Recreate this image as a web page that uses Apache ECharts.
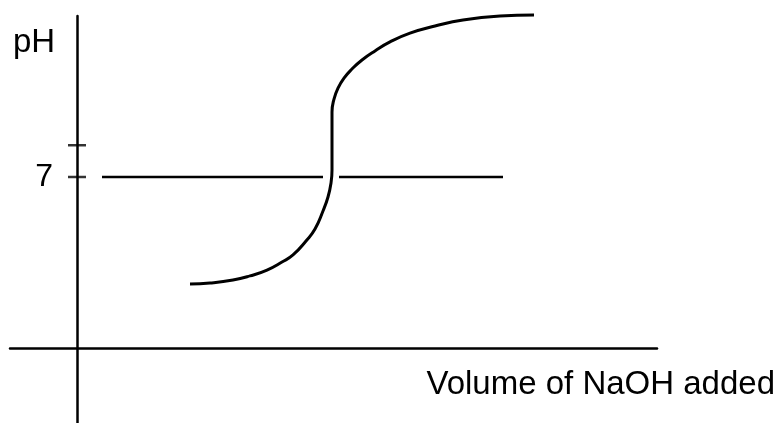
<!DOCTYPE html>
<html>
<head>
<meta charset="utf-8">
<script src="https://cdn.jsdelivr.net/npm/echarts@6/dist/echarts.min.js"></script>
<style>
  html, body { margin: 0; padding: 0; background: #fff; }
  #chart { width: 783px; height: 423px; }
</style>
</head>
<body>
<div id="chart"></div>
<script>
// titration curve
var volumeList = [11.3, 13.3, 15.6, 17.3, 19.0, 20.5, 21.6, 22.9, 23.8, 24.6, 25.1, 25.4,
                  25.5, 25.5, 25.5, 25.5, 25.7, 26.1, 26.7, 27.5, 28.5, 29.8, 31.3, 33.3,
                  35.8, 38.6, 42.3, 45.7];
var phList = [2.62, 2.66, 2.78, 2.95, 3.19, 3.52, 3.81, 4.38, 4.87, 5.61, 6.18, 6.75,
              7.29, 8.10, 8.92, 9.66, 10.19, 10.64, 11.05, 11.42, 11.79, 12.16, 12.53, 12.89,
              13.18, 13.43, 13.59, 13.63];
// neutral line pH 7, broken where the curve crosses it
var neutralPh = 7;
var neutralLeft = [2.5, 24.6];
var neutralRight = [26.2, 42.6];
var tickValues = [7, 8.3];
var labelValues = [7];

var font = '"Liberation Sans", Arial, Helvetica, sans-serif';

function pairs(xs, ys) {
	var out = [];
	for (var i = 0; i < xs.length; i++) {
		out.push([xs[i], ys[i]]);
	}
	return out;
}
function flat(xs, y) {
	var out = [];
	for (var i = 0; i < xs.length; i++) {
		out.push([xs[i], y]);
	}
	return out;
}
function onAxis(ys) {
	var out = [];
	for (var i = 0; i < ys.length; i++) {
		out.push([0, ys[i]]);
	}
	return out;
}

var chart = echarts.init(document.getElementById('chart'));
var lineStyle = { color: '#000', width: 2.5 };
var textStyle = { fontFamily: font, fontSize: 33, fontWeight: 'normal', color: '#000' };

chart.setOption({
	animation: false,
	title: [{
		text: 'pH',
		left: 8,
		top: 21,
		textStyle: textStyle
	}, {
		text: 'Volume of NaOH added',
		right: 3,
		top: 363,
		textStyle: textStyle
	}],
	grid: { left: 10, right: 126, top: 16, bottom: 0, containLabel: false, outerBoundsMode: 'none' },
	xAxis: {
		type: 'value',
		min: -6.7,
		max: 58,
		axisLine: { show: true, onZero: true, lineStyle: lineStyle },
		axisTick: { show: false },
		axisLabel: { show: false },
		splitLine: { show: false }
	},
	yAxis: {
		type: 'value',
		min: -3.07,
		max: 13.59,
		axisLine: { show: true, onZero: true, lineStyle: lineStyle },
		axisTick: { show: false },
		// label sits off the grid edge, so pull it in to the axis line
		axisLabel: { show: true, customValues: labelValues, margin: -43, color: '#000', fontFamily: font, fontSize: 32 },
		splitLine: { show: false }
	},
	series: [{
		// tick marks crossing the pH axis
		type: 'scatter',
		data: onAxis(tickValues),
		symbol: 'rect',
		symbolSize: [18, 2.5],
		itemStyle: { color: '#000' },
		silent: true
	}, {
		type: 'line',
		data: flat(neutralLeft, neutralPh),
		showSymbol: false,
		lineStyle: lineStyle
	}, {
		type: 'line',
		data: flat(neutralRight, neutralPh),
		showSymbol: false,
		lineStyle: lineStyle
	}, {
		type: 'line',
		data: pairs(volumeList, phList),
		smooth: true,
		clip: false,
		showSymbol: false,
		lineStyle: { color: '#000', width: 3 }
	}]
});
</script>
</body>
</html>
